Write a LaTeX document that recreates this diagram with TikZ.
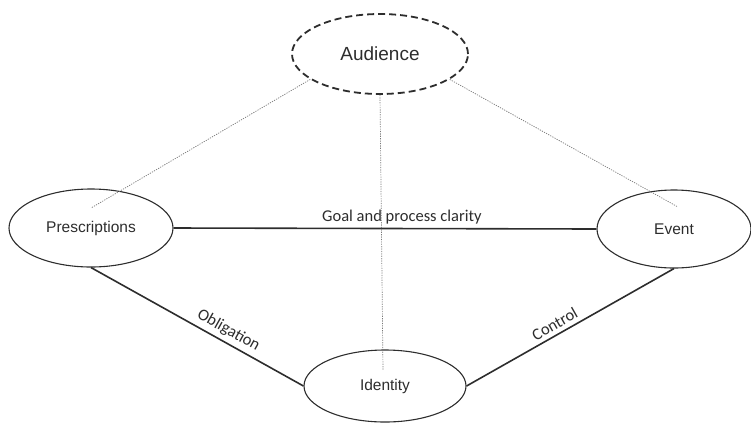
\documentclass[tikz,border=0pt]{standalone}
\usepackage{fontspec}
\setmainfont{Liberation Sans}
\newfontfamily\labelfont{Carlito}
\usepackage{xcolor}
\usetikzlibrary{shapes,positioning,calc}
\definecolor{linegray}{RGB}{45,45,45}
\definecolor{dotgray}{RGB}{120,120,120}

\begin{document}
\begin{tikzpicture}[x=1pt,y=-1pt,
		actor/.style={draw=linegray, ellipse, line width=1.1pt, inner sep=0pt, text=linegray, font=\fontsize{15.5}{18}\selectfont},
		tie/.style={draw=linegray, line width=1.6pt},
		view/.style={draw=dotgray, line width=0.7pt, dash pattern=on 1.2pt off 1.2pt},
		tielabel/.style={text=linegray, inner sep=4pt, font=\labelfont\fontsize{16.5}{19}\selectfont}]
				\useasboundingbox (0,0) rectangle (751,424);
				
				% Draw audience
				\node[actor, dashed, dash pattern=on 7pt off 4pt, line width=1.8pt, minimum width=176pt, minimum height=80pt, font=\fontsize{19}{22}\selectfont] (audience) at (380,54) {Audience};
				
				% Draw the three corners
				\node[actor, minimum width=164pt, minimum height=78pt] (prescr) at (91,228) {Prescriptions};
				\node[actor, minimum width=154pt, minimum height=78pt] (event) at (674,229) {Event};
				\node[actor, minimum width=162pt, minimum height=72pt] (identity) at (385,386) {Identity};
				
				% Draw solid ties
				\draw[tie] (prescr.east) -- node[tielabel, above, pos=0.54] {Goal and process clarity} (event.west);
				\draw[tie] (prescr.south) -- node[tielabel, above, sloped, pos=0.62] {Obligation} (identity.west);
				\draw[tie] (identity.east) -- node[tielabel, above, sloped, pos=0.45] {Control} (event.south);
				
				% Draw dotted views of the audience
				\coordinate (prescrEnd) at (91,208);
				\coordinate (eventEnd) at (678,207);
				\coordinate (identityEnd) at (383,370);
				\draw[view] (audience.200) -- (prescrEnd);
				\draw[view] (audience.340) -- (eventEnd);
				\draw[view] (audience.south) -- (identityEnd);
			\end{tikzpicture}
\end{document}
